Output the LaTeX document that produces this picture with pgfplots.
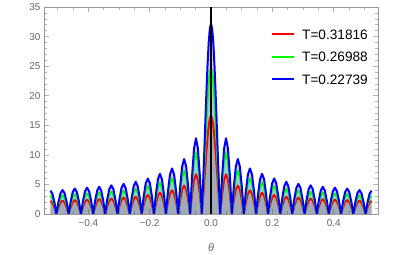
\documentclass[border=0pt]{standalone}
\usepackage{pgfplots}
\pgfplotsset{compat=1.18}
\usepackage{pgfplotstable}
\usepackage{fontspec}
\setmainfont{Liberation Sans}
\definecolor{framegray}{gray}{0.6}
\definecolor{tickgray}{gray}{0.7}
\definecolor{labelgray}{gray}{0.4}
\pgfplotstableread{
x b g r
-0.5236 3.95 3.1 2.2
-0.517 3.42 2.68 1.91
-0.5105 1.98 1.55 1.1
-0.504 0 0 0
-0.4973 2.03 1.58 1.13
-0.4907 3.51 2.73 1.95
-0.484 4.05 3.15 2.25
-0.4773 3.51 2.73 1.95
-0.4707 2.03 1.58 1.13
-0.464 0 0 0
-0.4573 2.15 1.68 1.18
-0.4507 3.72 2.9 2.04
-0.444 4.3 3.35 2.35
-0.4373 3.72 2.9 2.04
-0.4307 2.15 1.68 1.18
-0.424 0 0 0
-0.4173 2.23 1.73 1.21
-0.4107 3.85 2.99 2.1
-0.404 4.45 3.45 2.42
-0.3973 3.85 2.99 2.1
-0.3907 2.23 1.73 1.21
-0.384 0 0 0
-0.3775 2.3 1.8 1.25
-0.371 3.98 3.12 2.17
-0.3645 4.6 3.6 2.5
-0.358 3.98 3.12 2.17
-0.3515 2.3 1.8 1.25
-0.345 0 0 0
-0.3383 2.43 1.88 1.3
-0.3317 4.2 3.25 2.25
-0.325 4.85 3.75 2.6
-0.3183 4.2 3.25 2.25
-0.3117 2.43 1.88 1.3
-0.305 0 0 0
-0.2983 2.55 1.98 1.38
-0.2917 4.42 3.42 2.38
-0.285 5.1 3.95 2.75
-0.2783 4.42 3.42 2.38
-0.2717 2.55 1.98 1.38
-0.265 0 0 0
-0.2585 2.73 2.13 1.45
-0.252 4.72 3.68 2.51
-0.2455 5.45 4.25 2.9
-0.239 4.72 3.68 2.51
-0.2325 2.73 2.13 1.45
-0.226 0 0 0
-0.2193 3.0 2.35 1.6
-0.2127 5.2 4.07 2.77
-0.206 6.0 4.7 3.2
-0.1993 5.2 4.07 2.77
-0.1927 3.0 2.35 1.6
-0.186 0 0 0
-0.1795 3.4 2.65 1.8
-0.173 5.89 4.59 3.12
-0.1665 6.8 5.3 3.6
-0.160 5.89 4.59 3.12
-0.1535 3.4 2.65 1.8
-0.147 0 0 0
-0.1403 3.85 3.0 2.0
-0.1337 6.67 5.2 3.46
-0.127 7.7 6.0 4.0
-0.1203 6.67 5.2 3.46
-0.1137 3.85 3.0 2.0
-0.107 0 0 0
-0.1005 4.65 3.65 2.4
-0.094 8.05 6.32 4.16
-0.0875 9.3 7.3 4.8
-0.081 8.05 6.32 4.16
-0.0745 4.65 3.65 2.4
-0.068 0 0 0
-0.0617 6.4 5.15 3.35
-0.0553 11.08 8.92 5.80
-0.049 12.8 10.3 6.7
-0.0427 11.08 8.92 5.80
-0.0363 6.4 5.15 3.35
-0.030 0 0 0
-0.02625 4.48 3.44 2.31
-0.0225 9.66 7.41 4.98
-0.01875 15.15 11.62 7.81
-0.015 20.50 15.72 10.57
-0.01125 25.25 19.37 13.02
-0.0075 28.99 22.24 14.94
-0.00375 31.38 24.07 16.18
0 32.2 24.7 16.6
0.00375 31.38 24.07 16.18
0.0075 28.99 22.24 14.94
0.01125 25.25 19.37 13.02
0.015 20.50 15.72 10.57
0.01875 15.15 11.62 7.81
0.0225 9.66 7.41 4.98
0.02625 4.48 3.44 2.31
0.030 0 0 0
0.0363 6.4 5.15 3.35
0.0427 11.08 8.92 5.80
0.049 12.8 10.3 6.7
0.0553 11.08 8.92 5.80
0.0617 6.4 5.15 3.35
0.068 0 0 0
0.0745 4.65 3.65 2.4
0.081 8.05 6.32 4.16
0.0875 9.3 7.3 4.8
0.094 8.05 6.32 4.16
0.1005 4.65 3.65 2.4
0.107 0 0 0
0.1137 3.85 3.0 2.0
0.1203 6.67 5.2 3.46
0.127 7.7 6.0 4.0
0.1337 6.67 5.2 3.46
0.1403 3.85 3.0 2.0
0.147 0 0 0
0.1535 3.4 2.65 1.8
0.160 5.89 4.59 3.12
0.1665 6.8 5.3 3.6
0.173 5.89 4.59 3.12
0.1795 3.4 2.65 1.8
0.186 0 0 0
0.1927 3.0 2.35 1.6
0.1993 5.2 4.07 2.77
0.206 6.0 4.7 3.2
0.2127 5.2 4.07 2.77
0.2193 3.0 2.35 1.6
0.226 0 0 0
0.2325 2.73 2.13 1.45
0.239 4.72 3.68 2.51
0.2455 5.45 4.25 2.9
0.252 4.72 3.68 2.51
0.2585 2.73 2.13 1.45
0.265 0 0 0
0.2717 2.55 1.98 1.38
0.2783 4.42 3.42 2.38
0.285 5.1 3.95 2.75
0.2917 4.42 3.42 2.38
0.2983 2.55 1.98 1.38
0.305 0 0 0
0.3117 2.43 1.88 1.3
0.3183 4.2 3.25 2.25
0.325 4.85 3.75 2.6
0.3317 4.2 3.25 2.25
0.3383 2.43 1.88 1.3
0.345 0 0 0
0.3515 2.3 1.8 1.25
0.358 3.98 3.12 2.17
0.3645 4.6 3.6 2.5
0.371 3.98 3.12 2.17
0.3775 2.3 1.8 1.25
0.384 0 0 0
0.3907 2.23 1.73 1.21
0.3973 3.85 2.99 2.1
0.404 4.45 3.45 2.42
0.4107 3.85 2.99 2.1
0.4173 2.23 1.73 1.21
0.424 0 0 0
0.4307 2.15 1.68 1.18
0.4373 3.72 2.9 2.04
0.444 4.3 3.35 2.35
0.4507 3.72 2.9 2.04
0.4573 2.15 1.68 1.18
0.464 0 0 0
0.4707 2.03 1.58 1.13
0.4773 3.51 2.73 1.95
0.484 4.05 3.15 2.25
0.4907 3.51 2.73 1.95
0.4973 2.03 1.58 1.13
0.504 0 0 0
0.5105 1.98 1.55 1.1
0.517 3.42 2.68 1.91
0.5236 3.95 3.1 2.2
}\data
\begin{document}
\begin{tikzpicture}
\begin{axis}[
  name=ax,
  scale only axis,
  width=334bp, height=207bp,
  xmin=-0.5445, xmax=0.5445,
  ymin=0, ymax=35,
  axis line style={framegray, line width=0.8bp},
  tick align=inside,
  tick style={tickgray, line width=0.6bp},
  major tick length=5bp,
  minor tick length=2.7bp,
  xtick={-0.4,-0.2,0,0.2,0.4},
  xticklabels={−0.4,−0.2,0.0,0.2,0.4},
  minor xtick={-0.5,-0.45,...,0.51},
  ytick={0,5,...,35},
  minor ytick={0,1,...,35},
  /pgf/number format/assume math mode=true,
  ticklabel style={font=\fontsize{10}{12}\selectfont, text=labelgray},
  xticklabel style={yshift=-2bp},
  xlabel={\itshape θ},
  xlabel style={at={(axis description cs:0.5,-0.16)}, anchor=center, font=\fontsize{11}{13}\selectfont, text=labelgray},
  legend style={draw=none, fill=none, inner sep=0pt, at={(0.6796,0.893)}, anchor=north west,
    font=\fontsize{13.7}{16}\selectfont, row sep=12.5bp, column sep=7bp,
    nodes={inner sep=0pt, text height=10bp, text depth=0bp}},
  legend cell align=left,
  legend image code/.code={\draw[#1] (0bp,0bp) -- (22bp,0bp);},
]
\addplot[draw=none, fill=red, fill opacity=0.2, forget plot] table[x=x,y=r] {\data} \closedcycle;
\addplot[draw=none, fill=green, fill opacity=0.2, forget plot] table[x=x,y=g] {\data} \closedcycle;
\addplot[draw=none, fill=blue, fill opacity=0.2, forget plot] table[x=x,y=b] {\data} \closedcycle;
\addplot[red, line width=2bp, line join=round] table[x=x,y=r] {\data};
\addlegendentry{T=0.31816}
\addplot[green, line width=2bp, line join=round] table[x=x,y=g] {\data};
\addlegendentry{T=0.26988}
\addplot[blue, line width=2bp, line join=round] table[x=x,y=b] {\data};
\addlegendentry{T=0.22739}
\addplot[black, line width=2.2bp, forget plot] coordinates {(0,0) (0,35)};
\end{axis}
\path ([xshift=-44bp,yshift=-41bp]ax.south west) rectangle ([xshift=37bp,yshift=7bp]ax.north east);
\end{tikzpicture}
\end{document}
